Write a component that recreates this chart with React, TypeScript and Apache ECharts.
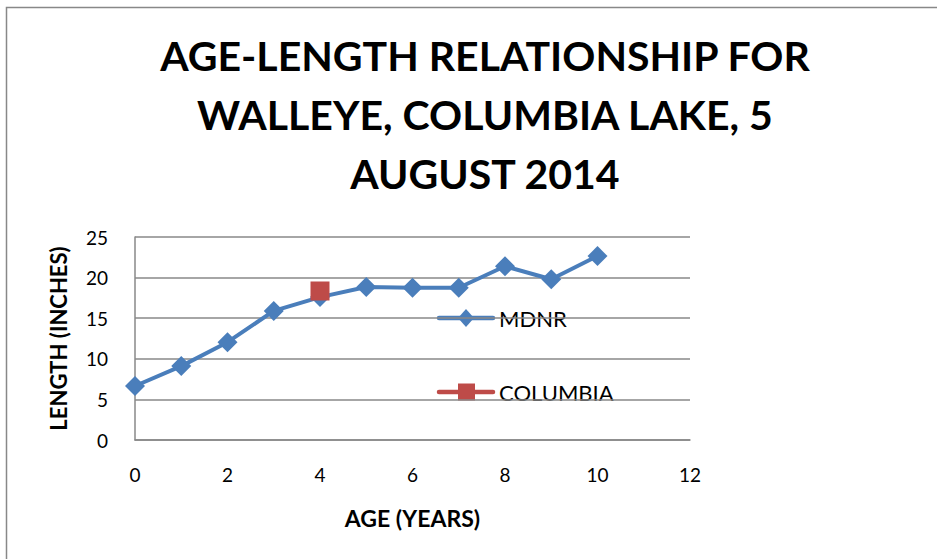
import React, { useEffect, useRef } from "react";
import * as echarts from "echarts";

const ages = [0, 1, 2, 3, 4, 5, 6, 7, 8, 9, 10];
const mdnrLengths = [6.65, 9.1, 12.05, 15.9, 17.6, 18.85, 18.75, 18.75, 21.4, 19.8, 22.65];
const columbiaAges = [4];
const columbiaLengths = [18.35];
const seriesNames = ["MDNR", "COLUMBIA"];
const titleLines = ["AGE-LENGTH RELATIONSHIP FOR", "WALLEYE, COLUMBIA LAKE, 5", "AUGUST 2014"];

const FONT = "Lato, 'Open Sans', sans-serif";
const BLUE = "#4A7EBB";
const RED = "#BE4B48";

export default function App() {
  const ref = useRef<HTMLDivElement>(null);
  useEffect(() => {
    if (!ref.current) return;
    const chart = echarts.init(ref.current, null, { renderer: "svg" });
    const legendItem = (y: number, color: string, name: string, marker: any) => ({
      type: "group",
      x: 439,
      y,
      silent: true,
      children: [
        {
          type: "line",
          shape: { x1: 0, y1: 0, x2: 54, y2: 0 },
          style: { stroke: color, lineWidth: 4.5, lineCap: "round" },
        },
        marker,
        {
          type: "text",
          x: 60,
          y: 0,
          style: {
            text: name,
            fontFamily: FONT,
            fontSize: 22,
            fill: "#000",
            verticalAlign: "middle",
            textAlign: "left",
          },
        },
      ],
    });
    chart.setOption({
      animation: false,
      backgroundColor: "#ffffff",
      title: {
        text: titleLines.join("\n"),
        left: 480,
        top: 21,
        textAlign: "center",
        textStyle: {
          fontFamily: FONT,
          fontWeight: "bold",
          fontSize: 41,
          lineHeight: 59,
          color: "#000",
        },
      },
      graphic: [
        {
          type: "rect",
          shape: { x: 6.5, y: 7.5, width: 1000, height: 1000 },
          style: { fill: "none", stroke: "#888", lineWidth: 1.5 },
          silent: true,
        },
        legendItem(318, BLUE, seriesNames[0], {
          type: "polygon",
          shape: { points: [[27, -9], [35, 0], [27, 9], [19, 0]] },
          style: { fill: BLUE },
        }),
        legendItem(392, RED, seriesNames[1], {
          type: "rect",
          shape: { x: 19, y: -8.5, width: 17, height: 17 },
          style: { fill: RED },
        }),
      ],
      grid: { left: 135, right: 247, top: 237, bottom: 119, containLabel: false },
      xAxis: {
        type: "value",
        min: 0,
        max: 12,
        interval: 2,
        name: "AGE (YEARS)",
        nameLocation: "middle",
        nameGap: 66,
        nameTextStyle: { fontFamily: FONT, fontWeight: "bold", fontSize: 23, color: "#000" },
        axisLine: { show: true, lineStyle: { color: "#888", width: 1.5 } },
        axisTick: { show: false },
        splitLine: { show: false },
        axisLabel: { fontFamily: FONT, fontSize: 19, color: "#000", margin: 25 },
      },
      yAxis: {
        type: "value",
        min: 0,
        max: 25,
        interval: 5,
        name: "LENGTH (INCHES)",
        nameLocation: "middle",
        nameGap: 66,
        nameRotate: 90,
        nameTextStyle: { fontFamily: FONT, fontWeight: "bold", fontSize: 22, color: "#000" },
        axisLine: { show: true, lineStyle: { color: "#888", width: 1.5 } },
        axisTick: { show: false },
        splitLine: { show: true, lineStyle: { color: "#888", width: 1.5 } },
        axisLabel: { fontFamily: FONT, fontSize: 19, color: "#000", margin: 27 },
      },
      series: [
        {
          name: seriesNames[0],
          type: "line",
          data: ages.map((a, i) => [a, mdnrLengths[i]]),
          symbol: "diamond",
          symbolSize: 20,
          lineStyle: { color: BLUE, width: 4 },
          itemStyle: { color: BLUE },
        },
        {
          name: seriesNames[1],
          type: "line",
          data: columbiaAges.map((a, i) => [a, columbiaLengths[i]]),
          symbol: "rect",
          symbolSize: 19,
          lineStyle: { color: RED, width: 4 },
          itemStyle: { color: RED },
        },
      ],
    });
    return () => chart.dispose();
  }, []);
  return <div ref={ref} style={{ width: 937, height: 559, position: "absolute", left: 0, top: 0 }} />;
}
